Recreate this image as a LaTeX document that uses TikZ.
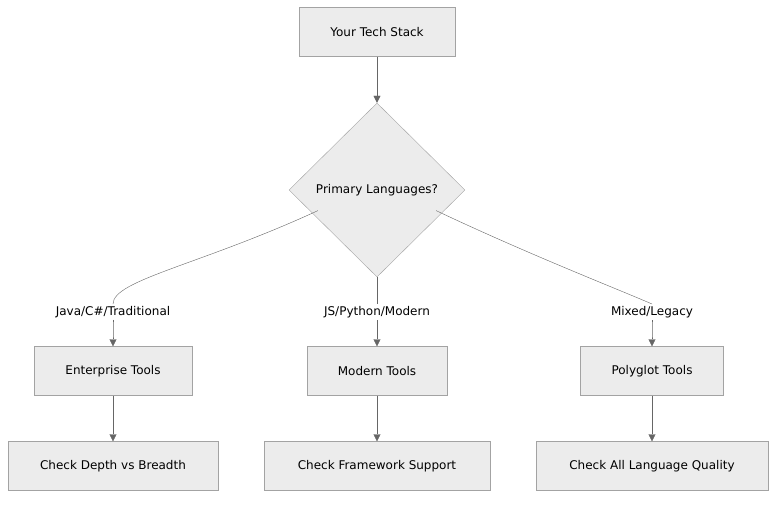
\documentclass[tikz,border=0pt]{standalone}
\usepackage{fontspec}
\setmainfont{DejaVu Sans}
\usetikzlibrary{shapes.geometric,arrows.meta}
\definecolor{boxfill}{HTML}{ECECEC}
\definecolor{boxline}{HTML}{A3A3A3}
\definecolor{linkcol}{HTML}{666666}
\tikzset{
  box/.style={draw=boxline,fill=boxfill,minimum height=49pt,inner sep=0pt,font=\fontsize{12}{14}\selectfont},
  link/.style={draw=linkcol,-{Triangle[length=7pt,width=7pt]}},
  lbl/.style={fill=white,inner sep=2pt,font=\fontsize{12}{14}\selectfont}
}
\begin{document}
\begin{tikzpicture}[x=1pt,y=-1pt]
\useasboundingbox (0,0) rectangle (784,504);

\node[box,minimum width=156pt] (stack) at (377,32) {Your Tech Stack};
\node[box,shape=diamond,minimum width=176pt,minimum height=174pt] (lang) at (377,190) {Primary Languages?};

\node[lbl] (java) at (113,312) {Java/C\#/Traditional};
\node[lbl] (js) at (377,312) {JS/Python/Modern};
\node[lbl] (mixed) at (652,312) {Mixed/Legacy};

\node[box,minimum width=158pt] (ent) at (113,371) {Enterprise Tools};
\node[box,minimum width=140pt] (mod) at (377,371) {Modern Tools};
\node[box,minimum width=143pt] (poly) at (652,371) {Polyglot Tools};

\node[box,minimum width=210pt] (depth) at (113,466) {Check Depth vs Breadth};
\node[box,minimum width=226pt] (frame) at (377,466) {Check Framework Support};
\node[box,minimum width=232pt] (qual) at (652,466) {Check All Language Quality};

\draw[link] (stack) -- (lang);
\draw[draw=linkcol] (lang.south west) ++(-15,-23) .. controls (200,265) and (113,280) .. (java.north);
\draw[draw=linkcol] (lang) -- (js);
\draw[draw=linkcol] (lang.south east) ++(15,-23) .. controls (530,255) and (620,290) .. (mixed.north);
\draw[link] (java.south) .. controls (113,332) and (113,330) .. (ent);
\draw[link] (js) -- (mod);
\draw[link] (mixed.south) .. controls (652,332) and (652,330) .. (poly);
\draw[link] (ent) -- (depth);
\draw[link] (mod) -- (frame);
\draw[link] (poly) -- (qual);
\end{tikzpicture}
\end{document}
